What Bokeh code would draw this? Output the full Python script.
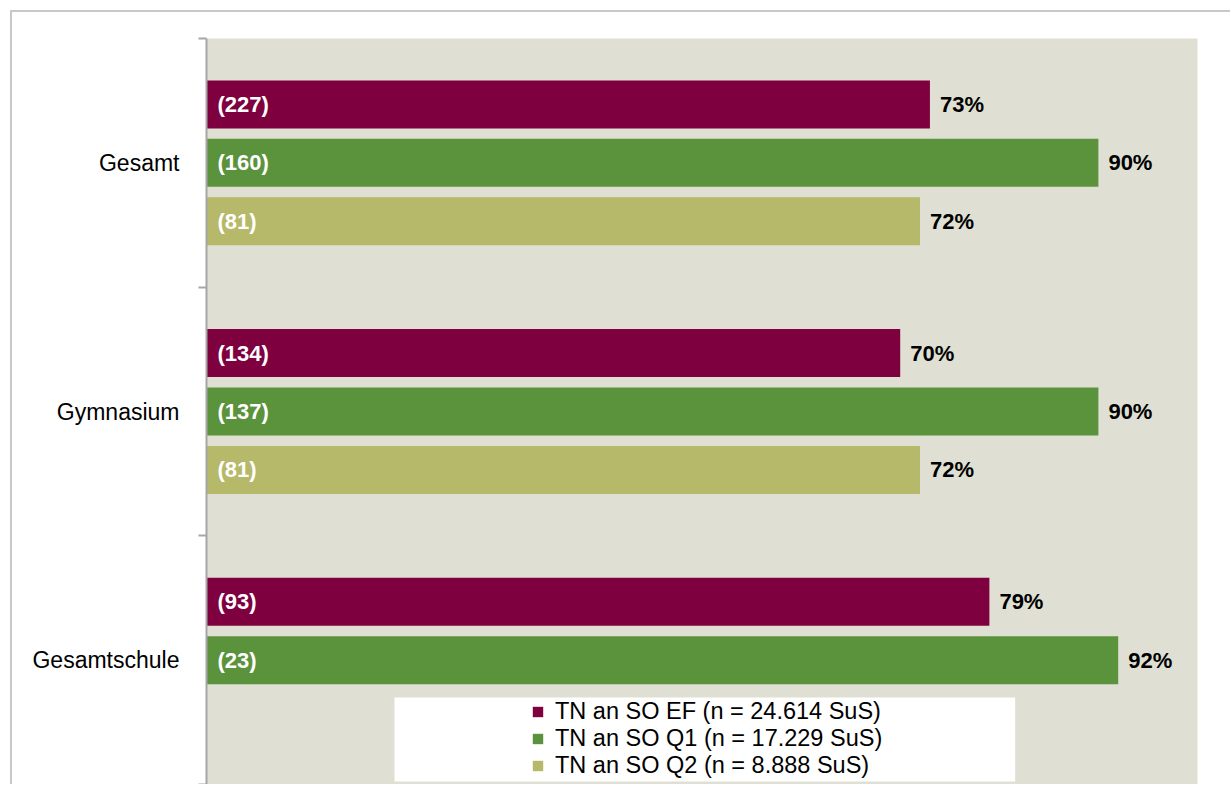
from bokeh.plotting import figure
from bokeh.models import ColumnDataSource, Range1d, FixedTicker, Legend, LegendItem, BoxAnnotation
from bokeh.transform import dodge
from bokeh.core.properties import value
from bokeh.embed import file_html
from bokeh.resources import INLINE

# ---- data ----
categories = ["Gesamt", "Gymnasium", "Gesamtschule"]
series_labels = ["TN an SO EF (n = 24.614 SuS)",
                 "TN an SO Q1 (n = 17.229 SuS)",
                 "TN an SO Q2 (n = 8.888 SuS)"]
ef_pct = [73, 70, 79]
ef_n = [227, 134, 93]
q1_pct = [90, 90, 92]
q1_n = [160, 137, 23]
q2_pct = [72, 72, None]
q2_n = [81, 81, None]

colors = ["#7f003f", "#5b923c", "#b6b96a"]
offsets = [0.235, 0.0, -0.235]
FONT = "Liberation Sans"

ncat = len(categories)
positions = [ncat - i - 0.5 for i in range(ncat)]

p = figure(width=1218, height=772, output_backend="svg", toolbar_location=None,
           x_range=Range1d(0, 100), y_range=Range1d(0, ncat),
           frame_width=991, frame_height=746,
           min_border_left=194, min_border_top=26, min_border_bottom=0, min_border_right=33)
p.margin = (10, 0, 0, 10)
p.styles = {"border-top": "2px solid #c8c8c8", "border-left": "2px solid #c8c8c8"}

p.background_fill_color = "#dfe0d3"
p.border_fill_color = "white"
p.outline_line_color = None
p.xgrid.visible = False
p.ygrid.visible = False
p.xaxis.visible = False

ya = p.yaxis[0]
ya.ticker = FixedTicker(ticks=positions, minor_ticks=list(range(ncat + 1)))
ya.major_label_overrides = {pos: cat for pos, cat in zip(positions, categories)}
ya.major_tick_out = 0
ya.major_tick_in = 0
ya.minor_tick_out = 8
ya.minor_tick_in = 0
ya.minor_tick_line_color = "#a6a6a6"
ya.minor_tick_line_width = 2
ya.axis_line_color = "#a6a6a6"
ya.axis_line_width = 2
ya.major_label_standoff = 19
ya.major_label_text_font = FONT
ya.major_label_text_font_size = "23px"
ya.major_label_text_color = "black"

# white legend background box
p.add_layout(BoxAnnotation(left=18.97, right=81.6, bottom=0.012, top=0.35,
                           fill_color="white", fill_alpha=1.0, line_color=None, level="annotation"))

items = []
all_series = [(ef_pct, ef_n), (q1_pct, q1_n), (q2_pct, q2_n)]
for i, (pct, n) in enumerate(all_series):
    pos_l, pct_l, nlab, plab = [], [], [], []
    for pos, v, c in zip(positions, pct, n):
        if v is None:
            continue
        pos_l.append(pos)
        pct_l.append(v)
        nlab.append(f"({c})")
        plab.append(f"{v}%")
    src = ColumnDataSource(dict(pos=pos_l, pct=pct_l, nlab=nlab, plab=plab))
    r = p.hbar(y=dodge("pos", offsets[i], range=p.y_range), left=0, right="pct",
               height=0.193, source=src, fill_color=colors[i], line_color=None)
    p.text(x=0, y=dodge("pos", offsets[i], range=p.y_range), text="nlab", source=src,
           x_offset=11, text_baseline="middle", text_align="left",
           text_color="white", text_font=value(FONT), text_font_style="bold",
           text_font_size="22px")
    p.text(x="pct", y=dodge("pos", offsets[i], range=p.y_range), text="plab", source=src,
           x_offset=10, text_baseline="middle", text_align="left",
           text_color="black", text_font=value(FONT), text_font_style="bold",
           text_font_size="22px")
    items.append(LegendItem(label=series_labels[i], renderers=[r]))

legend = Legend(items=items, location=(325, 5), padding=0, spacing=0,
                glyph_width=13, glyph_height=13, label_standoff=11, label_height=27,
                label_text_font=FONT, label_text_font_size="23.5px",
                label_text_color="black", background_fill_alpha=0.0,
                border_line_color=None)
p.add_layout(legend)

open("out.html", "w").write(file_html(p, INLINE))
